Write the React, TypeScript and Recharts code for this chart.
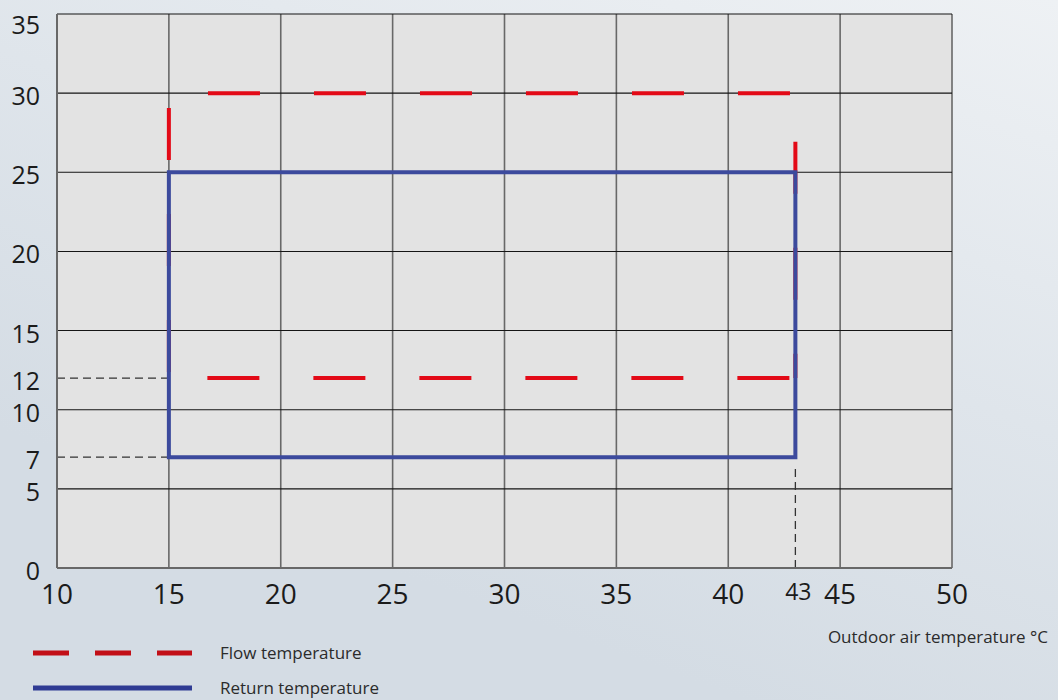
import React from "react";
import { LineChart, Line, XAxis, YAxis, CartesianGrid, ReferenceLine, Label } from "recharts";

const xTicks = [10, 15, 20, 25, 30, 35, 40, 43, 45, 50];
const yTicks = [0, 5, 7, 10, 12, 15, 20, 25, 30, 35];
const xGrid = [10, 15, 20, 25, 30, 35, 40, 45, 50];
const yGrid = [0, 5, 10, 15, 20, 25, 30, 35];

// operating envelope, flow side (the null splits bottom edge into its own dash run)
const flowLimits = [
  { x: 15, y: 12 },
  { x: 15, y: 30 },
  { x: 43, y: 30 },
  { x: 43, y: 12 },
  { x: 43, y: null },
  { x: 43, y: 12 },
  { x: 15, y: 12 },
];

// operating envelope, return side
const returnLimits = [
  { x: 15, y: 7 },
  { x: 15, y: 25 },
  { x: 43, y: 25 },
  { x: 43, y: 7 },
  { x: 15, y: 7 },
];

const minWater = [12, 7];
const maxOutdoor = 43;
const seriesNames = ["Flow temperature", "Return temperature"];

const FONT = "'Open Sans', 'DejaVu Sans', sans-serif";
const RED = "#e30a17";
const BLUE = "#3c4a9d";

const YTick = (props: any) => {
  const { x, y, payload } = props;
  return (
    <text x={x} y={y} dy={payload.value === 35 ? 20 : 12} textAnchor="end" fontSize={25} fill="#1b1b1b" fontFamily={FONT}>
      {payload.value}
    </text>
  );
};

const XTick = (props: any) => {
  const { x, y, payload } = props;
  const small = payload.value === 43;
  return (
    <text x={small ? x + 3 : x} y={y} dy={small ? 32 : 36} textAnchor="middle" fontSize={small ? 23 : 28} fill="#1b1b1b" fontFamily={FONT}>
      {payload.value}
    </text>
  );
};

export default function App() {
  return (
    <div
      style={{
        position: "absolute",
        left: 0,
        top: 0,
        width: 1058,
        height: 700,
        overflow: "hidden",
        background: "linear-gradient(200deg, #eef1f4 0%, #dfe5eb 40%, #d4dce4 75%)",
      }}
    >
      <LineChart width={1058} height={700} margin={{ top: 14, right: 106, left: 0, bottom: 72 }}>
        <CartesianGrid horizontal={false} verticalValues={xGrid} stroke="#686868" strokeWidth={1.6} fill="#e3e3e3" fillOpacity={1} />
        <CartesianGrid vertical={false} horizontalValues={yGrid} stroke="#151515" strokeWidth={1.1} />
        <XAxis
          dataKey="x"
          type="number"
          domain={[10, 50]}
          ticks={xTicks}
          allowDataOverflow
          height={60}
          tickSize={0}
          tickMargin={0}
          tickLine={false}
          axisLine={{ stroke: "#686868", strokeWidth: 2 }}
          tick={<XTick />}
        >
          <Label
            content={({ viewBox }: any) => (
              <text
                x={viewBox.x + viewBox.width + 96}
                y={viewBox.y + 75}
                textAnchor="end"
                fontSize={17}
                fill="#2b2b2b"
                fontFamily={FONT}
              >
                Outdoor air temperature °C
              </text>
            )}
          />
        </XAxis>
        <YAxis
          type="number"
          domain={[0, 35]}
          ticks={yTicks}
          width={57}
          tickSize={0}
          tickMargin={17}
          tickLine={false}
          axisLine={{ stroke: "#686868", strokeWidth: 2 }}
          tick={<YTick />}
        />
        {minWater.map((v) => (
          <ReferenceLine
            key={v}
            segment={[{ x: 10, y: v }, { x: 15, y: v }]}
            stroke="#333"
            strokeWidth={1.3}
            strokeDasharray="8 5"
          />
        ))}
        <ReferenceLine
          segment={[{ x: maxOutdoor, y: 0 }, { x: maxOutdoor, y: 6.4 }]}
          stroke="#333"
          strokeWidth={1.3}
          strokeDasharray="8 5"
        />
        <Line
          data={flowLimits}
          dataKey="y"
          name={seriesNames[0]}
          type="linear"
          stroke={RED}
          strokeWidth={4}
          strokeDasharray="52 54"
          strokeDashoffset={100}
          dot={false}
          activeDot={false}
          isAnimationActive={false}
        />
        <Line
          data={returnLimits}
          dataKey="y"
          name={seriesNames[1]}
          type="linear"
          stroke={BLUE}
          strokeWidth={4}
          strokeLinecap="square"
          dot={false}
          activeDot={false}
          isAnimationActive={false}
        />
      </LineChart>
      <svg width={420} height={70} style={{ position: "absolute", left: 0, top: 630 }}>
        <line x1={33} y1={23} x2={192} y2={23} stroke="#c20f17" strokeWidth={5} strokeDasharray="36 26" />
        <text x={220} y={29} fontSize={17} fill="#2b2b2b" fontFamily={FONT}>
          {seriesNames[0]}
        </text>
        <line x1={33} y1={58} x2={192} y2={58} stroke="#2f3b93" strokeWidth={5} />
        <text x={220} y={64} fontSize={17} fill="#2b2b2b" fontFamily={FONT}>
          {seriesNames[1]}
        </text>
      </svg>
    </div>
  );
}
